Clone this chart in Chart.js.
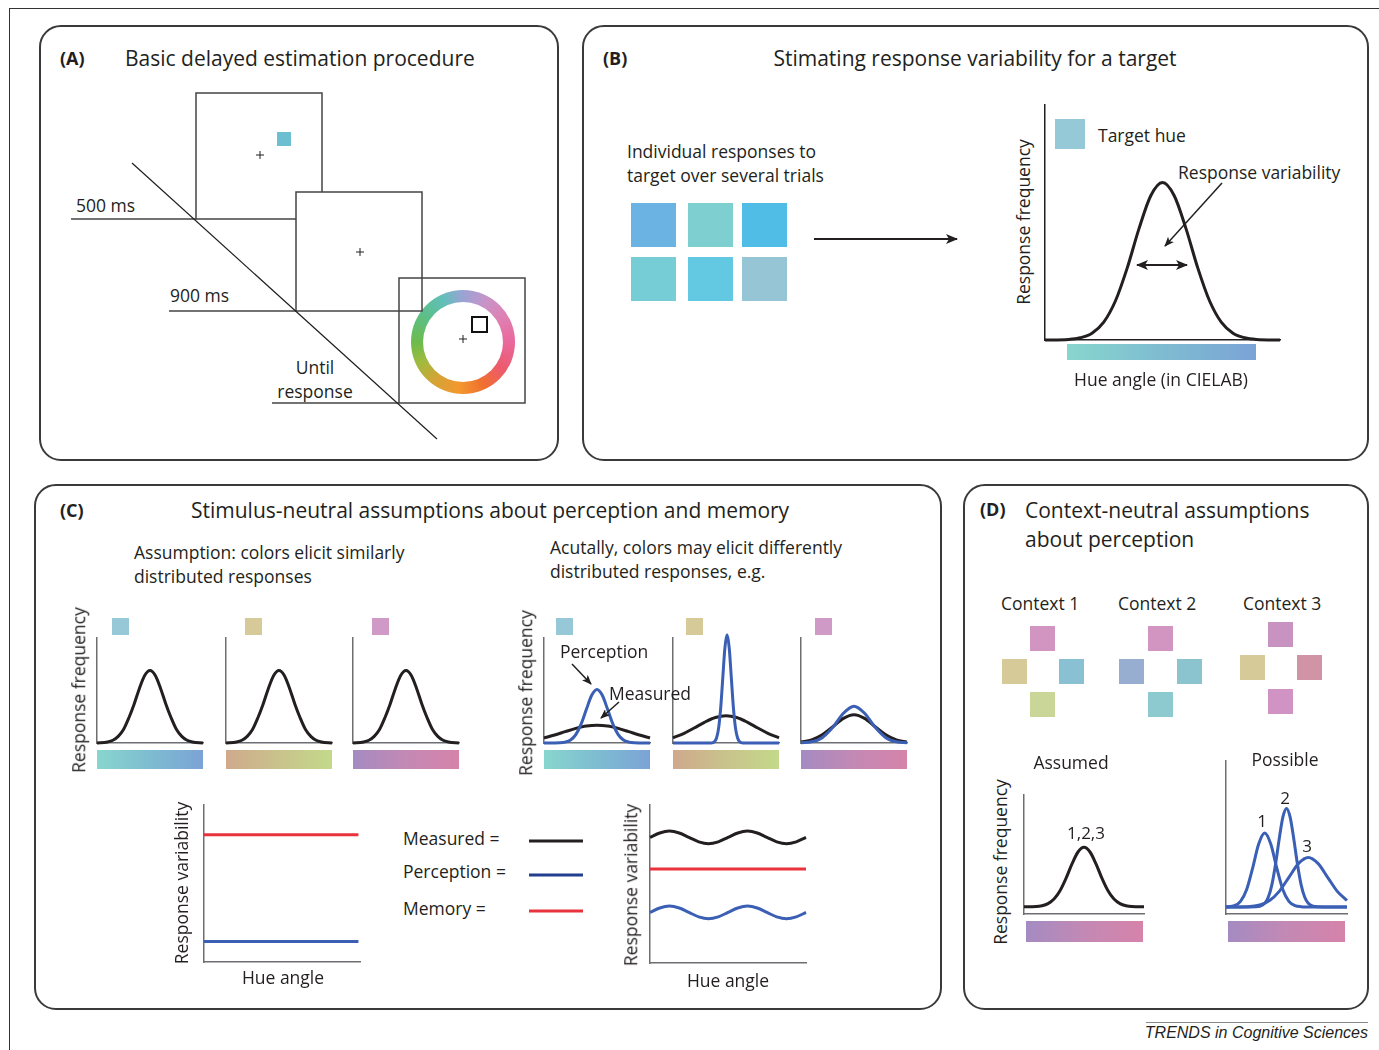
<!DOCTYPE html>
<html lang="en">
<head>
<meta charset="utf-8">
<title>Delayed estimation figure</title>
<script src="https://cdn.jsdelivr.net/npm/chart.js@4.4.1/dist/chart.umd.min.js"></script>
<style>
	body { margin: 0; background: #fff; }
	#fig { position: relative; width: 1379px; height: 1050px; overflow: hidden; font-family: "Open Sans", sans-serif; color: #231f20; }
	.panel { position: absolute; border: 2px solid #3a3a3a; border-radius: 22px; box-sizing: border-box; }
	.t { position: absolute; white-space: nowrap; line-height: 1; }
	.sw { position: absolute; }
	svg { position: absolute; left: 0; top: 0; z-index: 5; pointer-events: none; }
</style>
</head>
<body>
<div id="fig">
	<div class="panel" style="left:39px;top:25px;width:520px;height:436px;"></div>
	<div class="panel" style="left:582px;top:25px;width:787px;height:436px;"></div>
	<div class="panel" style="left:34px;top:484px;width:908px;height:526px;"></div>
	<div class="panel" style="left:963px;top:484px;width:406px;height:526px;"></div>
	<div style="position:absolute;left:9px;top:8px;width:1370px;height:0;border-top:1.5px solid #333;"></div>
	<div style="position:absolute;left:9px;top:8px;width:0;height:1042px;border-left:1.5px solid #333;"></div>
	<div style="position:absolute;left:1146px;top:1022px;width:222px;height:0;border-top:1px solid #888;"></div>

	<!-- colour wheel of panel A -->
	<div style="position:absolute;left:411px;top:290px;width:104px;height:104px;border-radius:50%;
		background:conic-gradient(#9aa3d4 0deg, #c993c8 30deg, #e07fb2 60deg, #e9689c 90deg, #ed5a6c 125deg, #f0702f 155deg, #f3982f 185deg, #d6a335 215deg, #9fbb3f 245deg, #6cbb4d 270deg, #5cbf89 305deg, #62bfba 335deg, #9aa3d4 360deg);">
		<div style="position:absolute;left:12px;top:12px;width:80px;height:80px;border-radius:50%;background:#fff;"></div>
	</div>

	<svg width="1379" height="1050" viewBox="0 0 1379 1050">
		<defs>
			<marker id="ah" markerWidth="10" markerHeight="8" refX="9" refY="4" orient="auto" markerUnits="userSpaceOnUse">
				<path d="M0,0 L10,4 L0,8 L2.5,4 z" fill="#231f20"/>
			</marker>
			<marker id="ahs" markerWidth="12" markerHeight="10" refX="11" refY="5" orient="auto-start-reverse" markerUnits="userSpaceOnUse">
				<path d="M0,0 L12,5 L0,10 L3,5 z" fill="#231f20"/>
			</marker>
		</defs>
		<!-- panel A diagram -->
		<g stroke="#444" stroke-width="1.5" fill="none">
			<line x1="71" y1="219" x2="196" y2="219"/>
			<rect x="196" y="93" width="126" height="126" fill="#fff"/>
			<rect x="296" y="192" width="126" height="119" fill="#fff"/>
			<line x1="169" y1="311" x2="296" y2="311"/>
			<rect x="399" y="278" width="126" height="125"/>
			<line x1="272" y1="403" x2="399" y2="403"/>
		</g>
		<line x1="132" y1="163" x2="437" y2="439" stroke="#231f20" stroke-width="1.2"/>
		<rect x="277" y="132" width="14" height="14" fill="#6cbfd0"/>
		<g stroke="#231f20" stroke-width="1">
			<line x1="256" y1="155" x2="264" y2="155"/><line x1="260" y1="151" x2="260" y2="159"/>
			<line x1="356" y1="252" x2="364" y2="252"/><line x1="360" y1="248" x2="360" y2="256"/>
			<line x1="459" y1="339" x2="467" y2="339"/><line x1="463" y1="335" x2="463" y2="343"/>
		</g>
		<rect x="472" y="317" width="15" height="15" fill="none" stroke="#111" stroke-width="2"/>
		<!-- arrows -->
		<line x1="814" y1="239" x2="957" y2="239" stroke="#231f20" stroke-width="2" marker-end="url(#ahs)"/>
		<line x1="1222" y1="183" x2="1165" y2="246" stroke="#231f20" stroke-width="1.5" marker-end="url(#ah)"/>
		<line x1="1137" y1="265" x2="1187" y2="265" stroke="#231f20" stroke-width="2" marker-start="url(#ahs)" marker-end="url(#ahs)"/>
		<line x1="572" y1="664" x2="591" y2="684" stroke="#231f20" stroke-width="1.5" marker-end="url(#ah)"/>
		<line x1="619" y1="702" x2="601" y2="718" stroke="#231f20" stroke-width="1.5" marker-end="url(#ah)"/>
		<!-- legend samples of panel C -->
		<line x1="529" y1="841" x2="583" y2="841" stroke="#231f20" stroke-width="3"/>
		<line x1="529" y1="875" x2="583" y2="875" stroke="#233d8f" stroke-width="3"/>
		<line x1="529" y1="911" x2="583" y2="911" stroke="#e8323c" stroke-width="3"/>
	</svg>
</div>

<script>
	// ---- data (x and y in % of each plot's axes) ----
	// panel B: one response distribution
	var bX = [0, 10, 15, 20, 25, 30, 35, 40, 45, 50, 55, 60, 65, 70, 75, 80, 85, 90, 100];
	var bFreq = [0.01, 0.26, 0.95, 2.9, 7.6, 16.7, 30.7, 47.4, 61.4, 67, 61.4, 47.4, 30.7, 16.7, 7.6, 2.9, 0.95, 0.26, 0.01];

	// panel C, assumption: same distribution for every colour
	var sameX = [0, 10, 15, 20, 25, 30, 35, 40, 45, 50, 55, 60, 65, 70, 75, 80, 85, 90, 100];
	var sameFreq = [0.1, 1.0, 2.6, 6.3, 12.8, 23.8, 37, 52, 64.3, 69, 64.3, 52, 37, 23.8, 12.8, 6.3, 2.6, 1.0, 0.1];

	// panel C, actual: perception (blue) and measured (black)
	var wideX = [0, 10, 20, 30, 40, 50, 60, 70, 80, 90, 100];
	var cyanPercX = [0, 15, 20, 25, 30, 35, 40, 45, 50, 55, 60, 65, 70, 75, 80, 85, 100];
	var cyanPerc = [0, 0.2, 0.8, 2.8, 8.0, 18.0, 32.1, 45.4, 51, 45.4, 32.1, 18.0, 8.0, 2.8, 0.8, 0.2, 0];
	var cyanMeas = [4.8, 7.6, 10.8, 13.9, 16.2, 17, 16.2, 13.9, 10.8, 7.6, 4.8];
	var tanPercX = [0, 36, 39, 41, 43, 45, 47, 49, 51, 53, 55, 57, 59, 61, 63, 66, 100];
	var tanPerc = [0, 0.09, 1.1, 4.5, 13.9, 33.4, 62.5, 90.9, 103, 90.9, 62.5, 33.4, 13.9, 4.5, 1.1, 0.09, 0];
	var tanMeas = [4.9, 9.0, 14.3, 19.9, 24.3, 26, 24.3, 19.9, 14.3, 9.0, 4.9];
	var pinkPerc = [0.17, 1.14, 5.1, 14.9, 28.3, 35, 28.3, 14.9, 5.1, 1.14, 0.17];
	var pinkMeas = [0.85, 2.9, 7.8, 15.5, 23.5, 27, 23.5, 15.5, 7.8, 2.9, 0.85];

	// panel C, response variability over hue angle
	var flatX = [0, 99];
	var flatMemory = [81, 81];
	var flatPerception = [13, 13];
	var hueX = [0, 6.25, 12.5, 18.75, 25, 31.25, 37.5, 43.75, 50, 56.25, 62.5, 68.75, 75, 81.25, 87.5, 93.75, 100];
	var waveMeasured = [79.5, 82.3, 83.5, 82.3, 79.5, 76.7, 75.5, 76.7, 79.5, 82.3, 83.5, 82.3, 79.5, 76.7, 75.5, 76.7, 79.5];
	var wavePerception = [32, 34.8, 36, 34.8, 32, 29.2, 28, 29.2, 32, 34.8, 36, 34.8, 32, 29.2, 28, 29.2, 32];
	var waveMemory = [59.5, 59.5, 59.5, 59.5, 59.5, 59.5, 59.5, 59.5, 59.5, 59.5, 59.5, 59.5, 59.5, 59.5, 59.5, 59.5, 59.5];

	// panel D: assumed vs possible distributions
	var assumedX = [0, 10, 15, 20, 25, 30, 35, 40, 45, 50, 55, 60, 65, 70, 75, 80, 85, 90, 100];
	var assumedFreq = [6, 6.2, 6.9, 8.7, 12.6, 19.6, 30, 42.1, 52.1, 56, 52.1, 42.1, 30, 19.6, 12.6, 8.7, 6.9, 6.2, 6];
	var ctx1X = [0, 7, 12, 17, 22, 27, 32, 37, 42, 47, 52, 57, 62, 72, 100];
	var ctx1Freq = [4.6, 5.5, 8.3, 15.9, 30, 45.8, 53, 45.8, 30, 15.9, 8.3, 5.5, 4.8, 4.6, 4.6];
	var ctx2X = [0, 20, 28, 32, 35, 38, 41, 44, 47, 50, 53, 56, 59, 62, 65, 68, 72, 80, 100];
	var ctx2Freq = [4.6, 4.6, 5.1, 7.0, 11.1, 19.4, 32.8, 49.2, 63.3, 69, 63.3, 49.2, 32.8, 19.4, 11.1, 7.0, 5.1, 4.6, 4.6];
	var ctx3X = [0, 18, 28, 36, 44, 52, 60, 68, 76, 84, 92, 100];
	var ctx3Freq = [4.6, 4.8, 5.9, 8.8, 14.8, 24, 33.1, 37, 33.1, 24, 14.8, 8.8];

	// colour swatches and hue bars
	var trialColors = ['#6ab3e2', '#7ecfd0', '#4fbde6', '#76cdd5', '#63c9e3', '#96c6d6'];
	var bTargetColor = '#96c9d8';
	var stimColors = ['#96c8d8', '#d5ca98', '#d09ac6'];
	var contextColors = [
		['#d294c0', '#d5ca98', '#89c1d3', '#c9d697'],
		['#d294c0', '#97aed0', '#8bc3cf', '#8ccacf'],
		['#c893c0', '#d5ca98', '#d193a6', '#d093c3']
	];
	var barBlue = ['#88d6ce', '#7ebcd1', '#7ba3d6'];
	var barTan = ['#cfa98c', '#c9c38c', '#c3d98a'];
	var barPink = ['#a48bc2', '#c389b4', '#d683aa'];

	var INK = '#231f20', BLUE = '#3a5fb4', RED = '#e8323c';
	var BODY = 17.5, TITLE = 21;
	var fig = document.getElementById('fig');

	function text(str, x, y, size, align, extra)
	{
		var d = document.createElement('div');
		d.className = 't';
		d.textContent = str;
		var tx = align == 'center' ? '-50%' : (align == 'right' ? '-100%' : '0');
		d.style.cssText = 'left:' + x + 'px;top:' + y + 'px;font-size:' + size + 'px;transform:translate(' + tx + ',-50%);' + (extra || '');
		fig.appendChild(d);
		return d;
	}
	function vtext(str, x, y, size)
	{
		var d = text(str, x, y, size, 'center');
		d.style.transform = 'translate(-50%,-50%) rotate(-90deg)';
	}
	function box(x, y, w, h, bg)
	{
		var d = document.createElement('div');
		d.className = 'sw';
		d.style.cssText = 'left:' + x + 'px;top:' + y + 'px;width:' + w + 'px;height:' + h + 'px;background:' + bg + ';';
		fig.appendChild(d);
	}
	function gradient(stops)
	{
		return 'linear-gradient(to right,' + stops.join(',') + ')';
	}
	function series(xs, ys, color, width)
	{
		return {
			data: xs.map(function(x, i) { return {x: x, y: ys[i]}; }),
			borderColor: color,
			borderWidth: width || 3,
			clip: false,
			pointRadius: 0,
			cubicInterpolationMode: 'monotone',
			borderJoinStyle: 'round'
		};
	}
	// plot area given as [left, top, right, bottom] in page pixels
	function plot(area, datasets, axisColor, axisWidth)
	{
		var pad = 8;
		var w = area[2] - area[0] + 2 * pad, h = area[3] - area[1] + 2 * pad;
		var cv = document.createElement('canvas');
		cv.width = w; cv.height = h;
		cv.style.cssText = 'position:absolute;left:' + (area[0] - pad) + 'px;top:' + (area[1] - pad) + 'px;width:' + w + 'px;height:' + h + 'px;';
		fig.appendChild(cv);
		var axis = {
			type: 'linear', min: 0, max: 100,
			grid: {display: false, drawTicks: false},
			ticks: {display: false},
			border: {display: true, color: axisColor || '#6d6e71', width: axisWidth || 1.5}
		};
		return new Chart(cv, {
			type: 'line',
			data: {datasets: datasets},
			options: {
				responsive: false,
				animation: false,
				events: [],
				layout: {padding: pad},
				plugins: {legend: {display: false}, tooltip: {enabled: false}},
				scales: {x: axis, y: Object.assign({}, axis)}
			}
		});
	}

	// ---------- panel A ----------
	text('(A)', 60, 58, 18, 'left', 'font-weight:700;');
	text('Basic delayed estimation procedure', 125, 58, TITLE);
	text('500 ms', 76, 206, BODY);
	text('900 ms', 170, 296, BODY);
	text('Until', 315, 368, BODY, 'center');
	text('response', 315, 392, BODY, 'center');

	// ---------- panel B ----------
	text('(B)', 603, 58, 18, 'left', 'font-weight:700;');
	text('Stimating response variability for a target', 975, 58, TITLE, 'center');
	text('Individual responses to', 627, 152, BODY);
	text('target over several trials', 627, 176, BODY);
	var tx = [631, 688, 742], ty = [203, 257];
	trialColors.forEach(function(c, i) { box(tx[i % 3], ty[Math.floor(i / 3)], 45, 44, c); });
	box(1055, 119, 30, 30, bTargetColor);
	text('Target hue', 1098, 136, BODY);
	text('Response variability', 1178, 173, BODY);
	plot([1045, 105, 1280, 340], [series(bX, bFreq, INK, 3)], INK, 1.5);
	box(1067, 344, 189, 16, gradient(barBlue));
	text('Hue angle (in CIELAB)', 1161, 380, BODY, 'center');
	vtext('Response frequency', 1024, 222, BODY);

	// ---------- panel C ----------
	text('(C)', 60, 510, 18, 'left', 'font-weight:700;');
	text('Stimulus-neutral assumptions about perception and memory', 191, 510, TITLE);
	text('Assumption: colors elicit similarly', 134, 553, BODY);
	text('distributed responses', 134, 577, BODY);
	text('Acutally, colors may elicit differently', 550, 548, BODY);
	text('distributed responses, e.g.', 550, 572, BODY);

	var bars = [barBlue, barTan, barPink];
	var leftX = [97, 226, 353], rightX = [544, 673, 801];
	var swLeft = [112, 245, 372], swRight = [556, 686, 815];
	leftX.forEach(function(x, i) {
		box(swLeft[i], 618, 17, 17, stimColors[i]);
		plot([x, 638, x + 106, 743], [series(sameX, sameFreq, INK, 3)]);
		box(x, 750, 106, 19, gradient(bars[i]));
	});
	var percSets = [
		[series(cyanPercX, cyanPerc, BLUE, 3), series(wideX, cyanMeas, INK, 3)],
		[series(tanPercX, tanPerc, BLUE, 3), series(wideX, tanMeas, INK, 3)],
		[series(wideX, pinkPerc, BLUE, 3), series(wideX, pinkMeas, INK, 3)]
	];
	rightX.forEach(function(x, i) {
		box(swRight[i], 618, 17, 17, stimColors[i]);
		plot([x, 638, x + 106, 743], percSets[i]);
		box(x, 750, 106, 19, gradient(bars[i]));
	});
	vtext('Response frequency', 79, 690, BODY);
	vtext('Response frequency', 526, 693, BODY);
	text('Perception', 560, 652, BODY);
	text('Measured', 609, 694, BODY);

	plot([204, 805, 360, 962], [
		series(flatX, flatMemory, RED, 3),
		series(flatX, flatPerception, BLUE, 3)
	], '#6d6e71', 1.5);
	vtext('Response variability', 182, 883, BODY);
	text('Hue angle', 283, 978, BODY, 'center');

	text('Measured =', 403, 839, BODY);
	text('Perception =', 403, 872, BODY);
	text('Memory =', 403, 909, BODY);

	plot([650, 805, 806, 963], [
		series(hueX, waveMeasured, INK, 3),
		series(hueX, waveMemory, RED, 3),
		series(hueX, wavePerception, BLUE, 3)
	], '#6d6e71', 1.5);
	vtext('Response variability', 631, 885, BODY);
	text('Hue angle', 728, 981, BODY, 'center');

	// ---------- panel D ----------
	text('(D)', 980, 509, 18, 'left', 'font-weight:700;');
	text('Context-neutral assumptions', 1025, 510, TITLE);
	text('about perception', 1025, 539, TITLE);
	var ctxLabelX = [1001, 1118, 1243];
	// top, left, right, bottom squares of each context
	var ctxPos = [
		[[1030, 626], [1002, 659], [1059, 659], [1030, 692]],
		[[1148, 626], [1119, 659], [1177, 659], [1148, 692]],
		[[1268, 622], [1240, 655], [1297, 655], [1268, 689]]
	];
	contextColors.forEach(function(cols, i) {
		text('Context ' + (i + 1), ctxLabelX[i], 604, BODY);
		cols.forEach(function(c, j) { box(ctxPos[i][j][0], ctxPos[i][j][1], 25, 25, c); });
	});
	text('Assumed', 1071, 763, BODY, 'center');
	text('Possible', 1285, 760, BODY, 'center');
	plot([1024, 795, 1144, 914], [series(assumedX, assumedFreq, INK, 3)]);
	plot([1226, 761, 1347, 914], [
		series(ctx1X, ctx1Freq, BLUE, 3),
		series(ctx2X, ctx2Freq, BLUE, 3),
		series(ctx3X, ctx3Freq, BLUE, 3)
	]);
	box(1026, 921, 117, 21, gradient(barPink));
	box(1228, 921, 117, 21, gradient(barPink));
	text('1,2,3', 1086, 832, 17, 'center');
	text('1', 1262, 820, 17, 'center');
	text('2', 1285, 797, 17, 'center');
	text('3', 1307, 845, 17, 'center');
	vtext('Response frequency', 1001, 862, BODY);

	text('TRENDS in Cognitive Sciences', 1368, 1033, 16, 'right', 'font-family:"Liberation Sans",Arial,sans-serif;font-style:italic;');
</script>
</body>
</html>
